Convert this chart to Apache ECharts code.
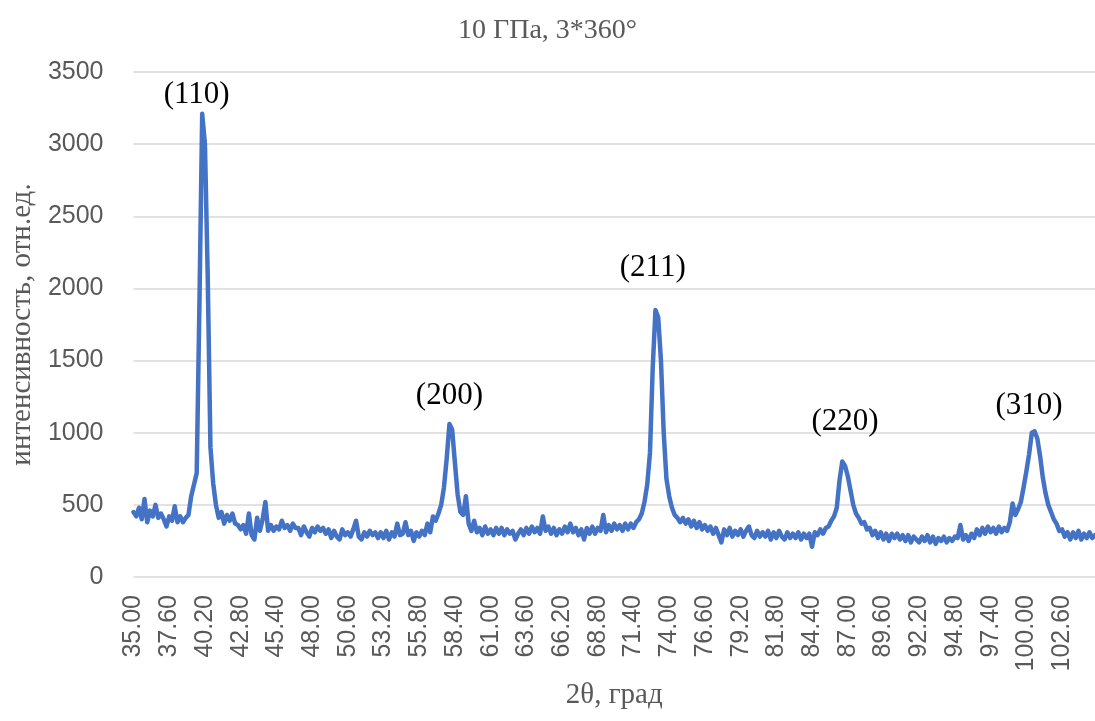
<!DOCTYPE html>
<html>
<head>
<meta charset="utf-8">
<style>
  html, body { margin: 0; padding: 0; background: #ffffff; }
  #chart { width: 1095px; height: 721px; }
</style>
<script src="https://cdn.jsdelivr.net/npm/echarts@6/dist/echarts.min.js"></script>
</head>
<body>
<div id="chart"></div>
<script>
// 2θ categories: 35.00 … 105.00, step 0.2 (axis categories)
const thetaStart = 35.0;
const thetaStep = 0.2;
const thetaCount = 351;
const twoTheta = [];
for (let i = 0; i < thetaCount; i++) twoTheta.push((thetaStart + i * thetaStep).toFixed(2));

// intensity values (one per category)
const intensity = [
  450, 420, 480, 400, 540, 380, 460, 420, 500, 410,
  440, 400, 350, 420, 390, 490, 380, 420, 380, 410,
  430, 560, 640, 720, 1900, 3210, 3000, 2100, 900, 650,
  500, 410, 450, 370, 430, 390, 440, 370, 360, 330,
  360, 300, 440, 290, 260, 410, 320, 400, 520, 320,
  360, 320, 350, 330, 390, 340, 360, 320, 370, 340,
  340, 290, 350, 310, 280, 340, 310, 350, 320, 340,
  300, 330, 270, 320, 280, 260, 330, 290, 310, 280,
  330, 390, 280, 260, 310, 280, 320, 290, 310, 270,
  310, 270, 320, 260, 310, 280, 370, 290, 300, 380,
  290, 320, 250, 310, 280, 320, 290, 370, 310, 420,
  390, 440, 500, 620, 820, 1060, 1020, 790, 570, 450,
  430, 560, 370, 320, 390, 310, 340, 290, 350, 300,
  330, 290, 340, 300, 340, 290, 330, 300, 320, 260,
  300, 330, 290, 340, 300, 350, 310, 340, 300, 420,
  320, 350, 300, 340, 290, 330, 300, 350, 310, 370,
  310, 340, 290, 330, 260, 340, 300, 350, 300, 340,
  320, 430, 310, 360, 320, 370, 330, 360, 320, 370,
  330, 370, 340, 380, 400, 440, 520, 640, 860, 1450,
  1850, 1800, 1500, 1000, 680, 560, 480, 430, 410, 380,
  410, 370, 400, 350, 390, 340, 380, 330, 360, 320,
  350, 300, 340, 290, 240, 330, 290, 340, 280, 320,
  290, 330, 280, 320, 350, 290, 270, 320, 280, 310,
  280, 320, 260, 310, 270, 320, 280, 260, 310, 270,
  300, 270, 310, 260, 300, 270, 300, 210, 310, 290,
  330, 300, 340, 350, 390, 420, 480, 670, 800, 770,
  700, 600, 500, 440, 410, 370, 380, 330, 340, 290,
  320, 270, 310, 260, 300, 250, 300, 270, 300, 260,
  290, 250, 290, 240, 280, 260, 240, 280, 250, 290,
  240, 280, 230, 270, 250, 280, 240, 270, 250, 280,
  270, 360, 260, 290, 250, 300, 270, 330, 290, 340,
  300, 350, 310, 340, 300, 350, 310, 340, 320, 380,
  510, 430, 470, 520, 620, 730, 850, 1000, 1010, 960,
  840, 690, 580, 500, 450, 400, 370, 320, 330, 280,
  310, 260, 310, 270, 320, 260, 300, 270, 310, 270,
  290
];

// peak annotations
const peakNames = ['(110)', '(200)', '(211)', '(220)', '(310)'];
const peakLabelTheta = ['39.60', '58.00', '72.80', '86.80', '100.20'];
const peakLabelValue = [3340, 1254, 2141, 1074, 1185];

const titleText = '10 ГПа, 3*360°';
const xName = '2θ, град';
const yName = 'интенсивность, отн.ед.';

const chart = echarts.init(document.getElementById('chart'), null, { renderer: 'canvas' });

const markData = peakNames.map((n, i) => ({
  name: n,
  coord: [peakLabelTheta[i], peakLabelValue[i]]
}));

chart.setOption({
  animation: false,
  backgroundColor: '#ffffff',
  title: {
    text: titleText,
    left: 'center',
    top: 12,
    textStyle: {
      fontFamily: 'Liberation Serif',
      fontSize: 28,
      fontWeight: 'normal',
      color: '#595959'
    }
  },
  grid: { left: 132, right: 0, top: 72, bottom: 144 },
  xAxis: {
    type: 'category',
    data: twoTheta,
    boundaryGap: false,
    name: xName,
    nameLocation: 'middle',
    nameGap: 104,
    nameTextStyle: { fontFamily: 'Liberation Serif', fontSize: 29, color: '#595959' },
    axisLine: { show: false },
    axisTick: { show: false },
    axisLabel: {
      interval: 12,
      rotate: 90,
      margin: 18,
      fontFamily: 'Liberation Sans',
      fontSize: 25,
      color: '#595959'
    },
    splitLine: { show: false }
  },
  yAxis: {
    type: 'value',
    min: 0,
    max: 3500,
    interval: 500,
    name: yName,
    nameLocation: 'middle',
    nameGap: 88,
    nameRotate: 90,
    nameTextStyle: { fontFamily: 'Liberation Serif', fontSize: 29, color: '#595959' },
    axisLine: { show: false },
    axisTick: { show: false },
    axisLabel: {
      margin: 30,
      fontFamily: 'Liberation Sans',
      fontSize: 25,
      color: '#595959',
      formatter: function (v) { return String(v); }
    },
    splitLine: { show: true, lineStyle: { color: '#d9d9d9', width: 1.5 } }
  },
  series: [{
    type: 'line',
    data: intensity,
    symbol: 'none',
    lineStyle: { color: '#4472C4', width: 4.5, join: 'round', cap: 'round' },
    itemStyle: { color: '#4472C4' },
    markPoint: {
      symbol: 'circle',
      symbolSize: 0,
      silent: true,
      label: {
        show: true,
        position: 'inside',
        formatter: '{b}',
        fontFamily: 'Liberation Serif',
        fontSize: 31,
        color: '#000000'
      },
      data: markData
    }
  }]
});
</script>
</body>
</html>
